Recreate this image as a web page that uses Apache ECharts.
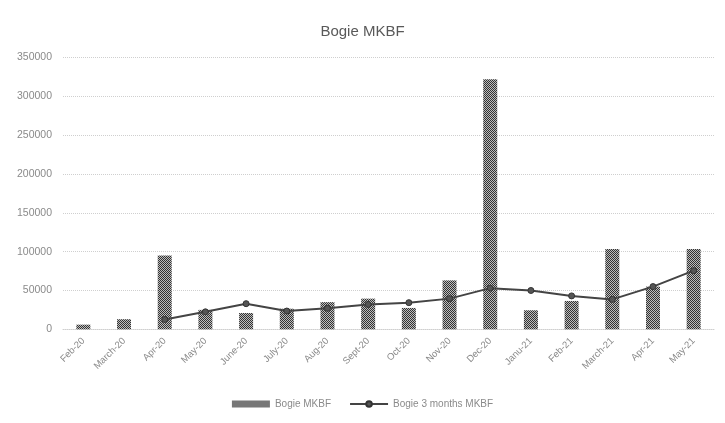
<!DOCTYPE html>
<html>
<head>
<meta charset="utf-8">
<script src="https://cdn.jsdelivr.net/npm/echarts@6/dist/echarts.min.js"></script>
<style>
html,body{margin:0;padding:0;background:#fff;}
#chart{width:725px;height:423px;}
</style>
</head>
<body>
<div id="chart"></div>
<script>
var categories = ['Feb-20','March-20','Apr-20','May-20','June-20','July-20','Aug-20','Sept-20','Oct-20','Nov-20','Dec-20','Janu-21','Feb-21','March-21','Apr-21','May-21'];
var bogieMKBF = [6000, 13000, 95000, 25000, 21000, 26500, 35000, 39500, 27500, 63000, 322000, 24500, 36500, 103500, 55000, 103500];
var bogie3Months = [null, null, 12700, 22500, 33000, 23500, 27000, 32000, 34300, 39500, 53000, 50000, 43000, 38500, 55000, 75500];
var yTicks = {min: 0, max: 350000, interval: 50000};

function checker() {
  var c = document.createElement('canvas');
  c.width = 2; c.height = 2;
  var ctx = c.getContext('2d');
  ctx.fillStyle = '#bdbdbd'; ctx.fillRect(0,0,2,2);
  ctx.fillStyle = '#333333'; ctx.fillRect(0,0,1,1); ctx.fillRect(1,1,1,1);
  return c;
}
var pattern = {image: checker(), repeat: 'repeat'};

var chart = echarts.init(document.getElementById('chart'));
chart.setOption({
  animation: false,
  backgroundColor: '#fff',
  textStyle: {fontFamily: 'Liberation Sans'},
  title: {
    text: 'Bogie MKBF', left: 'center', top: 19,
    textStyle: {fontSize: 15, fontWeight: 'normal', color: '#595959', fontFamily: 'Liberation Sans'}
  },
  grid: {left: 63, right: 11, top: 57.5, bottom: 93.7, containLabel: false},
  legend: {
    bottom: 9, left: 'center', itemGap: 18, itemWidth: 38, itemHeight: 7,
    textStyle: {fontSize: 10, color: '#8a8a8a'},
    data: [{name: 'Bogie MKBF', icon: 'rect', itemStyle: {color: '#777'}}, {name: 'Bogie 3 months MKBF'}]
  },
  xAxis: {
    type: 'category', data: categories,
    axisLine: {show: true, lineStyle: {color: '#cfcfcf', type: 'dotted'}},
    axisTick: {show: false},
    axisLabel: {rotate: 45, fontSize: 9.5, color: '#8a8a8a', interval: 0, margin: 10}
  },
  yAxis: {
    type: 'value', min: yTicks.min, max: yTicks.max, interval: yTicks.interval,
    axisLine: {show: false}, axisTick: {show: false},
    axisLabel: {fontSize: 10.5, color: '#8a8a8a', margin: 11, formatter: function (v) { return String(v); }},
    splitLine: {lineStyle: {color: '#cfcfcf', type: 'dotted'}}
  },
  series: [
    {
      name: 'Bogie MKBF', type: 'bar', data: bogieMKBF, barWidth: 14,
      itemStyle: {color: pattern}
    },
    {
      name: 'Bogie 3 months MKBF', type: 'line', data: bogie3Months,
      symbol: 'circle', symbolSize: 6, connectNulls: false,
      lineStyle: {color: '#444', width: 2},
      itemStyle: {color: '#555', borderColor: '#333', borderWidth: 1}
    }
  ]
});
</script>
</body>
</html>
